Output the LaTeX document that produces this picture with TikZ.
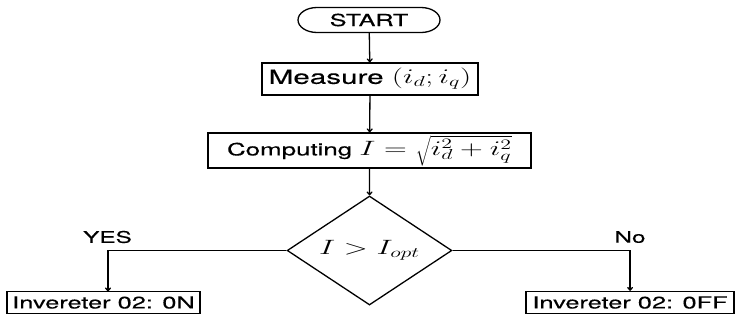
\documentclass[tikz,border=0pt]{standalone}
\usepackage{fontspec}
\setmainfont{TeX Gyre Heros}[FakeBold=0.3]
\usetikzlibrary{shapes.geometric,shapes.misc,arrows.meta}
% horizontal stretch applied to the whole chart, lettering included
\newcommand{\hs}{1.52}
\newcommand{\fs}[1]{\fontsize{#1}{#1}\selectfont}
\begin{document}
\begin{tikzpicture}[x=1pt,y=-1pt]
\useasboundingbox (0,0) rectangle (735,324);
\begin{scope}[x={1pt/\hs}, xscale=\hs,
  every node/.style={transform shape, inner sep=0pt, font=\fs{16.7}},
  box/.style={draw, line width=1.3pt, rectangle},
  startbox/.style={draw, line width=1.3pt, rounded rectangle},
  test/.style={draw, line width=1.3pt, diamond},
  flow/.style={line width=1.3pt, -{To[length=4pt,width=6pt]}}]

\node[startbox, minimum width={142pt/\hs}, minimum height=25pt, font=\fs{16.5}] (start) at (369,20) {START};
\node[box, minimum width={216pt/\hs}, minimum height=32pt, font=\fs{19.5}] (meas) at (370,79) {Measure $(i_d;i_q)$};
\node[box, minimum width={323pt/\hs}, minimum height=35pt, font=\fs{17}] (comp) at (369.5,150.5) {Computing {\fs{19.5}$I=\sqrt{i_d^2+i_q^2}$}};
\node[test, minimum width={165pt/\hs}, minimum height=109pt, font=\fs{20}] (dec) at (369.5,250.5) {$I>I_{opt}$};
\node[box, minimum width={193pt/\hs}, minimum height=22pt] (on) at (103.5,302.5) {Invereter 02: 0N};
\node[box, minimum width={208pt/\hs}, minimum height=22pt] (off) at (630,302.5) {Invereter 02: 0FF};

\coordinate (onin) at (108,291.5);

\draw[flow] (start) -- (meas);
\draw[flow] (meas) -- (comp);
\draw[flow] (comp) -- (dec);
\draw[flow] (dec.west) -| (onin);
\draw[flow] (dec.east) -| (off.north);

\node[font=\fs{16}] (yes) at (107.5,237) {YES};
\node[font=\fs{16}] (no) at (630,237) {No};
\end{scope}
\end{tikzpicture}
\end{document}
